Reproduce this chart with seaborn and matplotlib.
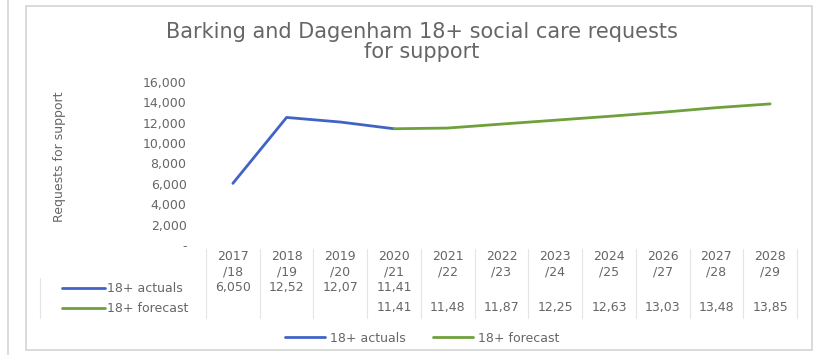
import matplotlib
matplotlib.use("Agg")
import matplotlib.pyplot as plt
from matplotlib.lines import Line2D
from matplotlib.patches import Rectangle
from matplotlib.transforms import blended_transform_factory
import seaborn as sns
import pandas as pd
import numpy as np

# ---- data ----
categories = ["2017/18", "2018/19", "2019/20", "2020/21", "2021/22", "2022/23",
              "2023/24", "2024/25", "2026/27", "2027/28", "2028/29"]
actuals = [6050, 12520, 12070, 11410, None, None, None, None, None, None, None]
forecast = [None, None, None, 11410, 11480, 11870, 12250, 12630, 13030, 13480, 13850]
series_names = ["18+ actuals", "18+ forecast"]
table_row_names = ["18+ actuals", "18+ forecast"]
y_ticks = [0, 2000, 4000, 6000, 8000, 10000, 12000, 14000, 16000]
title = "Barking and Dagenham 18+ social care requests\nfor support"
y_label = "Requests for support"
colors = ["#4163C6", "#6FA03B"]

rows = []
for name, vals in zip(series_names, [actuals, forecast]):
    for i, v in enumerate(vals):
        if v is not None:
            rows.append({"pos": i, "value": v, "series": name})
df = pd.DataFrame(rows)

sns.set_theme(style="white")
plt.rcParams["font.family"] = ["DejaVu Sans"]
text_col = "#666666"

W, H = 820, 355
fig = plt.figure(figsize=(W / 100, H / 100), dpi=100)
fig.patch.set_facecolor("white")

def fx(px):
    return px / W

def fy(py):
    return 1 - py / H

ax_left, ax_right, ax_top, ax_bot = 206, 797, 82, 245
ax = fig.add_axes([fx(ax_left), fy(ax_bot), fx(ax_right - ax_left), (ax_bot - ax_top) / H])
ax.set_facecolor("none")

sns.lineplot(data=df, x="pos", y="value", hue="series", palette=colors,
             hue_order=series_names, linewidth=2.0, ax=ax, legend=False)

ax.set_xlim(-0.5, len(categories) - 0.5)
ax.set_ylim(0, 16000)
ax.set_yticks(y_ticks)
ax.set_yticklabels(["-" if t == 0 else f"{t:,}" for t in y_ticks])
ax.set_xticks([])
ax.set_xlabel("")
ax.tick_params(axis="y", length=0, pad=14, labelsize=9, labelcolor=text_col)
for s in ax.spines.values():
    s.set_visible(False)
ax.grid(False)
ax.set_ylabel(y_label, fontsize=9, color=text_col)
ax.yaxis.set_label_coords((66 - ax_left) / (ax_right - ax_left), (ax_bot - 157) / (ax_bot - ax_top))

# title
fig.text(fx(422), fy(42), title, ha="center", va="center", fontsize=15,
         color=text_col, linespacing=1.05)

# data table
tr = blended_transform_factory(ax.transData, fig.transFigure)
for i, c in enumerate(categories):
    a, b = c.split("/")
    fig.text(i, fy(264.5), f"{a}\n/{b}", transform=tr, ha="center", va="center",
             fontsize=9, color=text_col, linespacing=1.25)
row_y = [288, 308]
for vals, ry in zip([actuals, forecast], row_y):
    for i, v in enumerate(vals):
        if v is not None:
            fig.text(i, fy(ry), f"{v:,.0f}"[:5], transform=tr, ha="center", va="center",
                     fontsize=9, color=text_col)
grid_col = "#e4e4e4"
for i in range(len(categories) + 1):
    fig.add_artist(Line2D([i - 0.5, i - 0.5], [fy(249), fy(318)], transform=tr,
                          color=grid_col, lw=0.8))
for name, col, ry in zip(table_row_names, colors, row_y):
    fig.add_artist(Line2D([fx(62), fx(105)], [fy(ry), fy(ry)], color=col, lw=2.0))
    fig.text(fx(107), fy(ry), name, ha="left", va="center", fontsize=9, color=text_col)
fig.add_artist(Line2D([fx(40), fx(40)], [fy(278), fy(318)], color=grid_col, lw=0.8))

# bottom legend
handles = [Line2D([], [], color=c, lw=2.0) for c in colors]
fig.legend(handles, series_names, loc="center", bbox_to_anchor=(fx(422), fy(338)),
           ncol=2, frameon=False, fontsize=9, handlelength=3.2, columnspacing=2.2,
           handletextpad=0.4, labelcolor=text_col)

# frames
fig.add_artist(Rectangle((fx(26), fy(350)), fx(812 - 26), (350 - 6) / H,
                         transform=fig.transFigure, fill=False, edgecolor="#d4d4d4", lw=1.2))
fig.add_artist(Line2D([fx(8), fx(8)], [0, 1], color="#d4d4d4", lw=1.2))

fig.savefig("out.png", dpi=100, facecolor="white")
